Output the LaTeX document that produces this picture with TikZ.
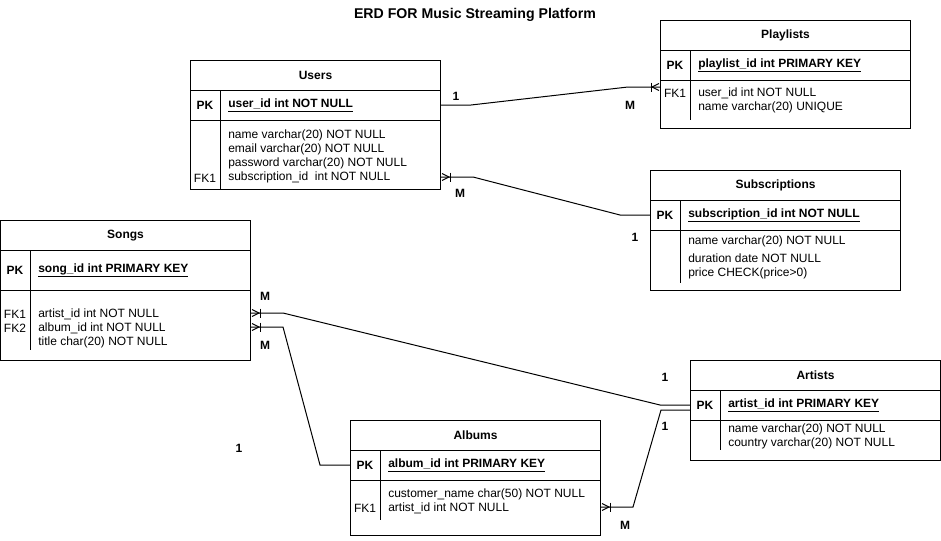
\documentclass[tikz,border=0pt]{standalone}
\usepackage{fontspec}
\setmainfont{Liberation Sans}
\usetikzlibrary{calc}
\tikzset{
  ent/.style={draw, rectangle, anchor=north west, inner sep=0pt, minimum width=187.5pt, line width=0.75pt},
  ttl/.style={font=\bfseries\fontsize{9}{10.5}\selectfont, inner sep=0pt},
  pkl/.style={font=\bfseries\fontsize{9}{10.5}\selectfont, inner sep=0pt},
  fld/.style={font=\fontsize{9}{10.5}\selectfont, inner sep=0pt, align=left, anchor=north west},
  fkl/.style={font=\fontsize{9}{10.5}\selectfont, inner sep=0pt},
  card/.style={font=\bfseries\fontsize{9}{10.5}\selectfont, inner sep=0pt},
  conn/.style={line width=0.75pt},
  crow/.pic={\draw[conn] (1,-3.5) -- (8,0) -- (1,3.5); \draw[conn] (9,-4.5) -- (9,4.5);}
}
% #1 name, #2 x, #3 y, #4 height, #5 pk row height, #6 divider end, #7 title, #8 key text
\newcommand\erbox[8]{%
  \node[ent, minimum height=#4*0.75pt] (#1) at (#2,#3) {};
  \draw[line width=0.75pt] ($(#1.north west)+(0,30)$) -- ($(#1.north east)+(0,30)$);
  \draw[line width=0.75pt] ($(#1.north west)+(0,30+#5)$) -- ($(#1.north east)+(0,30+#5)$);
  \draw[line width=0.75pt] ($(#1.north west)+(30,30)$) -- ($(#1.north west)+(30,#6)$);
  \node[ttl] (#1-title) at ($(#1.north)+(0,15.5)$) {#7};
  \node[pkl] (#1-pk) at ($(#1.north west)+(15,30.5+#5/2)$) {PK};
  \node[pkl, anchor=west] (#1-key) at ($(#1.north west)+(38,30.5+#5/2)$) {\underline{#8}};
}
\begin{document}
\begin{tikzpicture}[x=0.75pt, y=-0.75pt]
\useasboundingbox[fill=white] (0,0) rectangle (941,540);

\node[font=\bfseries\fontsize{10.6}{12}\selectfont, inner sep=0pt] (title) at (475,15) {ERD FOR Music Streaming Platform};

% Users
\erbox{users}{190}{60}{129}{30}{129}{Users}{user\_id int NOT NULL}
\node[fld] (users-f) at (228,130) {name varchar(20) NOT NULL\\email varchar(20) NOT NULL\\password varchar(20) NOT NULL\\subscription\_id\ \ int NOT NULL};
\node[fkl] (users-fk) at (205,178) {FK1};

% Playlists
\erbox{playlists}{660}{20}{108}{30}{100}{Playlists}{playlist\_id int PRIMARY KEY}
\node[fld] (playlists-f) at (698,88) {user\_id int NOT NULL\\name varchar(20) UNIQUE};
\node[fkl] (playlists-fk) at (675,93) {FK1};

% Subscriptions
\erbox{subs}{650}{170}{120}{30}{113}{Subscriptions}{subscription\_id int NOT NULL}
\node[fld] (subs-f1) at (688,236) {name varchar(20) NOT NULL};
\node[fld] (subs-f2) at (688,254) {duration date NOT NULL\\price CHECK(price>0)};

% Songs
\erbox{songs}{0}{220}{140}{40}{130}{Songs}{song\_id int PRIMARY KEY}
\node[fld] (songs-f) at (38,309) {artist\_id int NOT NULL\\album\_id int NOT NULL\\title char(20) NOT NULL};
\node[fkl] (songs-fk1) at (15,314) {FK1};
\node[fkl] (songs-fk2) at (15,328) {FK2};

% Artists
\erbox{artists}{690}{360}{100}{30}{90}{Artists}{artist\_id int PRIMARY KEY}
\node[fld] (artists-f) at (728,424) {name varchar(20) NOT NULL\\country varchar(20) NOT NULL};

% Albums
\erbox{albums}{350}{420}{115}{30}{100}{Albums}{album\_id int PRIMARY KEY}
\node[fld] (albums-f) at (388,489) {customer\_name char(50) NOT NULL\\artist\_id int NOT NULL};
\node[fkl] (albums-fk) at (365,508) {FK1};

% Users -- Playlists
\draw[conn] ($(users.north east)+(0,45)$) -- ++(30,0) -- ($(playlists.north west)+(-32,67)$) -- ($(playlists.north west)+(0,67)$);
\pic[xscale=-1] at ($(playlists.north west)+(0,67)$) {crow};
\node[card] (c1a) at (456,96) {1};
\node[card] (c1b) at (630,105) {M};

% Users -- Subscriptions
\draw[conn] ($(users.north east)+(0,117)$) -- ++(32,0) -- ($(subs.north west)+(-30,45)$) -- ($(subs.north west)+(0,45)$);
\pic at ($(users.north east)+(0,117)$) {crow};
\node[card] (c2a) at (460,193) {M};
\node[card] (c2b) at (635,237) {1};

% Songs -- Artists
\draw[conn] ($(songs.north east)+(0,93)$) -- ++(32,0) -- ($(artists.north west)+(-30,45)$) -- ($(artists.north west)+(0,45)$);
\pic at ($(songs.north east)+(0,93)$) {crow};
\node[card] (c3a) at (265,296) {M};
\node[card] (c3b) at (665,377) {1};

% Songs -- Albums
\draw[conn] ($(songs.north east)+(0,107)$) -- ++(32,0) -- ($(albums.north west)+(-30,45)$) -- ($(albums.north west)+(0,45)$);
\pic at ($(songs.north east)+(0,107)$) {crow};
\node[card] (c4a) at (265,345) {M};
\node[card] (c4b) at (239,448) {1};

% Albums -- Artists
\draw[conn] ($(albums.north east)+(0,87)$) -- ++(32,0) -- ($(artists.north west)+(-29,50)$) -- ($(artists.north west)+(0,50)$);
\pic at ($(albums.north east)+(0,87)$) {crow};
\node[card] (c5a) at (665,426) {1};
\node[card] (c5b) at (625,525) {M};
\end{tikzpicture}
\end{document}
